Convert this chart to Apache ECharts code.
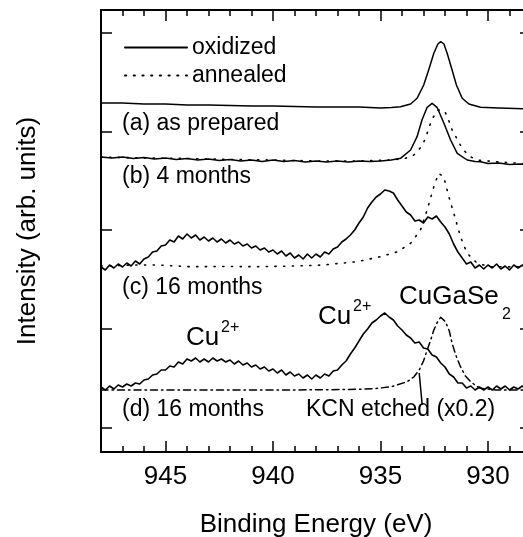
<!DOCTYPE html>
<html>
<head>
<meta charset="utf-8">
<script src="https://cdn.jsdelivr.net/npm/echarts@6/dist/echarts.min.js"></script>
<style>html,body{margin:0;padding:0;background:#fff}#c{width:523px;height:537px}</style>
</head>
<body>
<div id="c"></div>
<script>
// Binding energy ticks (eV)
var xMajorTicks = [930, 935, 940, 945];
var yTicks = [0, 99, 198, 296, 395];

// (a) as prepared, oxidized  [eV, intensity]
var aOxidized = [[948,325],[947,325],[946,324],[945,324],[944,323],[943,323],[942,322.5],[941,322],[940,322],[939,321.5],[938,321],[937,321],[936,321],[935,320],[934.5,320.5],[934.07,321.3],[933.6,324],[933.3,329.7],[932.99,343],[932.76,358],[932.52,374.7],[932.33,384],[932.2,386.3],[932.05,384],[931.9,374.7],[931.67,358],[931.47,343],[931.2,329.7],[930.89,324],[930.35,320.7],[929.5,320],[928.35,319.3],[928,319]];

// (b) 4 months
var bOxidized = [[948,271],[947.5,270],[947,271],[946.5,269.5],[946,270.5],[945.5,269],[945,270],[944.5,268.5],[944,269.5],[943.5,268],[943,269],[942.5,267.5],[942,268.5],[941.5,267],[941,268],[940.5,266.5],[940,268],[939.5,266.5],[939,267.5],[938.5,266],[938,267],[937.5,266],[937,267],[936.5,266],[936,267],[935.5,266.5],[935,267],[934.5,268],[934.07,269.7],[933.6,278],[933.3,291.3],[933.07,308],[932.83,320.7],[932.6,324.7],[932.37,320.7],[932.05,304.7],[931.74,288],[931.43,274.7],[930.97,268],[930.6,266.5],[930.35,266.3],[930,264.5],[929.5,265],[929,263.5],[928.5,264],[928,263]];
var bAnnealed = [[948,271],[946,270],[944,269.5],[942,268.5],[940,268],[938,267],[936,267],[934.5,268],[933.84,269.7],[933.45,273],[933.1,281.3],[932.9,289.7],[932.76,299.7],[932.6,308.7],[932.37,317.3],[932.2,318.5],[932.0,316.3],[931.82,307.3],[931.67,298],[931.43,288.7],[931.2,279.7],[930.89,272],[930.5,268],[929.5,266],[928,264]];

// (c) 16 months
var cOxidized = [[948.0,161],[947.8,158],[947.6,163],[947.4,160],[947.2,164],[947.0,161],[946.8,165],[946.6,162],[946.4,167],[946.2,164],[946.0,169],[945.8,171],[945.6,176],[945.4,177],[945.2,182],[945.0,183],[944.8,188],[944.6,186],[944.4,192],[944.2,189],[944.0,194],[943.8,190],[943.6,193],[943.4,188],[943.2,191],[943.0,187],[942.8,190],[942.6,186],[942.4,189],[942.2,185],[942.0,188],[941.8,184],[941.6,186],[941.4,182],[941.2,184],[941.0,180],[940.8,182],[940.6,178],[940.4,180],[940.2,176],[940.0,178],[939.8,174],[939.6,177],[939.4,172],[939.2,175],[939.0,170],[938.8,173],[938.6,169],[938.4,174],[938.2,170],[938.0,174],[937.8,171],[937.6,176],[937.4,174],[937.2,179],[937.0,181],[936.8,186],[936.6,189],[936.4,193],[936.2,198],[936.0,205],[935.8,211],[935.6,220],[935.4,226],[935.2,231],[935.0,234],[934.8,238],[934.6,237],[934.4,235],[934.2,228],[934.0,222],[933.8,216],[933.6,213],[933.4,207],[933.2,208],[933.0,205],[932.8,211],[932.6,209],[932.4,212],[932.2,206],[932.0,201],[931.8,194],[931.6,184],[931.4,176],[931.2,170],[931.0,164],[930.8,166],[930.6,160],[930.4,163],[930.2,159],[930.0,163],[929.8,160],[929.6,164],[929.4,159],[929.2,162],[929.0,158],[928.8,163],[928.6,160],[928.4,163],[928.2,159],[928.0,162]];
var cAnnealed = [[948,162],[946.5,163],[945.4,163],[943.86,161.3],[942,161.5],[940.75,161.3],[939,162],[937.65,163],[936.1,166.3],[935.0,171.3],[934.2,176.3],[933.6,184.7],[933.14,198],[932.83,218],[932.52,241.3],[932.3,254.7],[932.06,251.3],[931.82,231.3],[931.5,208],[931.28,191.3],[930.97,174.7],[930.5,164.7],[929.9,161.3],[928,161]];

// (d) 16 months and KCN etched (x0.2)
var dOxidized = [[948.0,41],[947.8,38],[947.6,42],[947.4,39],[947.2,43],[947.0,41],[946.8,44],[946.6,42],[946.4,45],[946.2,44],[946.0,48],[945.8,49],[945.6,53],[945.4,54],[945.2,58],[945.0,58],[944.8,62],[944.6,61],[944.4,66],[944.2,64],[944.0,69],[943.8,67],[943.6,70],[943.4,66],[943.2,69],[943.0,66],[942.8,70],[942.6,67],[942.4,69],[942.2,66],[942.0,68],[941.8,64],[941.6,67],[941.4,63],[941.2,65],[941.0,61],[940.8,63],[940.6,59],[940.4,61],[940.2,57],[940.0,59],[939.8,55],[939.6,58],[939.4,53],[939.2,56],[939.0,52],[938.8,54],[938.6,50],[938.4,53],[938.2,49],[938.0,53],[937.8,50],[937.6,54],[937.4,52],[937.2,57],[937.0,58],[936.8,63],[936.6,67],[936.4,74],[936.2,80],[936.0,87],[935.8,94],[935.6,99],[935.4,105],[935.2,108],[935.0,112],[934.8,115],[934.6,111],[934.4,108],[934.2,102],[934.0,98],[933.8,93],[933.6,90],[933.4,85],[933.2,86],[933.0,80],[932.8,79],[932.6,73],[932.4,71],[932.2,65],[932.0,61],[931.8,54],[931.6,51],[931.4,45],[931.2,45],[931.0,40],[930.8,42],[930.6,38],[930.4,41],[930.2,38],[930.0,41],[929.8,38],[929.6,42],[929.4,39],[929.2,42],[929.0,38],[928.8,41],[928.6,39],[928.4,42],[928.2,39],[928.0,41]];
var dKCN = [[948,38],[946,38],[943.85,38],[941.5,38],[939.2,38],[937.5,38.3],[936.1,38.7],[935.2,39.5],[934.5,41.3],[933.76,46.3],[933.45,51],[933.2,58],[933.0,67],[932.83,78],[932.65,89],[932.52,98],[932.35,106],[932.2,110.7],[931.98,106.3],[931.8,97],[931.67,84.7],[931.5,73],[931.28,61.3],[931.05,52],[930.8,46.3],[930.55,42],[930.35,39.7],[929.6,38],[928.5,38],[928,38]];

var FONT = 'Liberation Sans, Arial, Helvetica, sans-serif';
var DOT = [1.2, 7.5];
var chart = echarts.init(document.getElementById('c'), null, {renderer: 'canvas'});

function xAx(pos, major, withLabel) {
  var o = {
    type: 'value', position: pos, min: 928, max: 948, inverse: true,
    splitLine: {show: false},
    axisLine: {show: major, onZero: false, lineStyle: {color: '#000', width: 2}},
    axisTick: {show: true, inside: true, length: major ? 11 : 6, lineStyle: {color: '#000', width: 1.5}},
    axisLabel: {show: false}
  };
  if (major) {
    o.axisTick.customValues = xMajorTicks;
    o.axisLabel = {show: withLabel, customValues: xMajorTicks, fontSize: 26, fontFamily: FONT, color: '#000', margin: 12};
  } else {
    o.interval = 1;
  }
  if (withLabel) {
    o.name = 'Binding Energy (eV)';
    o.nameLocation = 'middle';
    o.nameGap = 60;
    o.nameTextStyle = {fontSize: 26, fontFamily: FONT, color: '#000'};
  }
  return o;
}
function yAx(pos, withName) {
  var o = {
    type: 'value', position: pos, min: -24, max: 418,
    splitLine: {show: false},
    axisLine: {show: true, onZero: false, lineStyle: {color: '#000', width: 2}},
    axisTick: {show: true, inside: true, length: 11, customValues: yTicks, lineStyle: {color: '#000', width: 1.5}},
    axisLabel: {show: false}
  };
  if (withName) {
    o.name = 'Intensity (arb. units)';
    o.nameLocation = 'middle';
    o.nameGap = 60;
    o.nameTextStyle = {fontSize: 26, fontFamily: FONT, color: '#000'};
  }
  return o;
}
function line(name, data, type, width) {
  return {
    name: name, type: 'line', data: data, showSymbol: false, symbol: 'none',
    xAxisIndex: 0, yAxisIndex: 0, smooth: false,
    lineStyle: {color: '#000', width: width || 1.5, type: type || 'solid', cap: 'round', join: 'round'},
    itemStyle: {color: '#000'}
  };
}
function label(x, y, s, size) {
  return {type: 'text', x: x, y: y, style: {text: s, fontSize: size || 23, fontFamily: FONT, fill: '#000', verticalAlign: 'middle', align: 'left'}};
}

var kcn = line('KCN etched', dKCN, [7, 4, 1.5, 4], 1.5);
kcn.markLine = {
  silent: true, symbol: ['none', 'none'], label: {show: false},
  lineStyle: {color: '#000', width: 1.5, type: 'solid'},
  data: [[{coord: [933.2, 55]}, {coord: [933.06, 23]}]]
};

chart.setOption({
  animation: false,
  backgroundColor: '#fff',
  grid: {left: 101, right: -8, top: 10, bottom: 85, containLabel: false, outerBoundsMode: 'none'},
  xAxis: [xAx('bottom', true, true), xAx('bottom', false, false), xAx('top', true, false), xAx('top', false, false)],
  yAxis: [yAx('left', true), yAx('right', false)],
  legend: {
    data: ['oxidized', 'annealed'], orient: 'vertical', left: 119, top: 31,
    itemWidth: 62, itemHeight: 14, itemGap: 5, selectedMode: false,
    itemStyle: {color: 'rgba(0,0,0,0)', borderWidth: 0, opacity: 0},
    textStyle: {fontSize: 23, fontFamily: FONT, color: '#000'}
  },
  series: [
    line('oxidized', aOxidized),
    line('oxidized', bOxidized),
    line('annealed', bAnnealed, DOT, 1.6),
    line('oxidized', cOxidized, 'solid', 1.6),
    line('annealed', cAnnealed, DOT, 1.6),
    line('oxidized', dOxidized, 'solid', 1.6),
    kcn
  ],
  graphic: [
    label(122, 124, '(a) as prepared'),
    label(122, 177, '(b) 4 months'),
    label(122, 288, '(c) 16 months'),
    label(122, 410, '(d) 16 months'),
    label(306, 410, 'KCN etched (x0.2)'),
    label(186, 338, 'Cu', 26),
    label(221, 328, '2+', 16),
    label(318, 317, 'Cu', 26),
    label(353, 307, '2+', 16),
    label(399, 297, 'CuGaSe', 26),
    label(502, 315, '2', 16)
  ]
});
</script>
</body>
</html>
